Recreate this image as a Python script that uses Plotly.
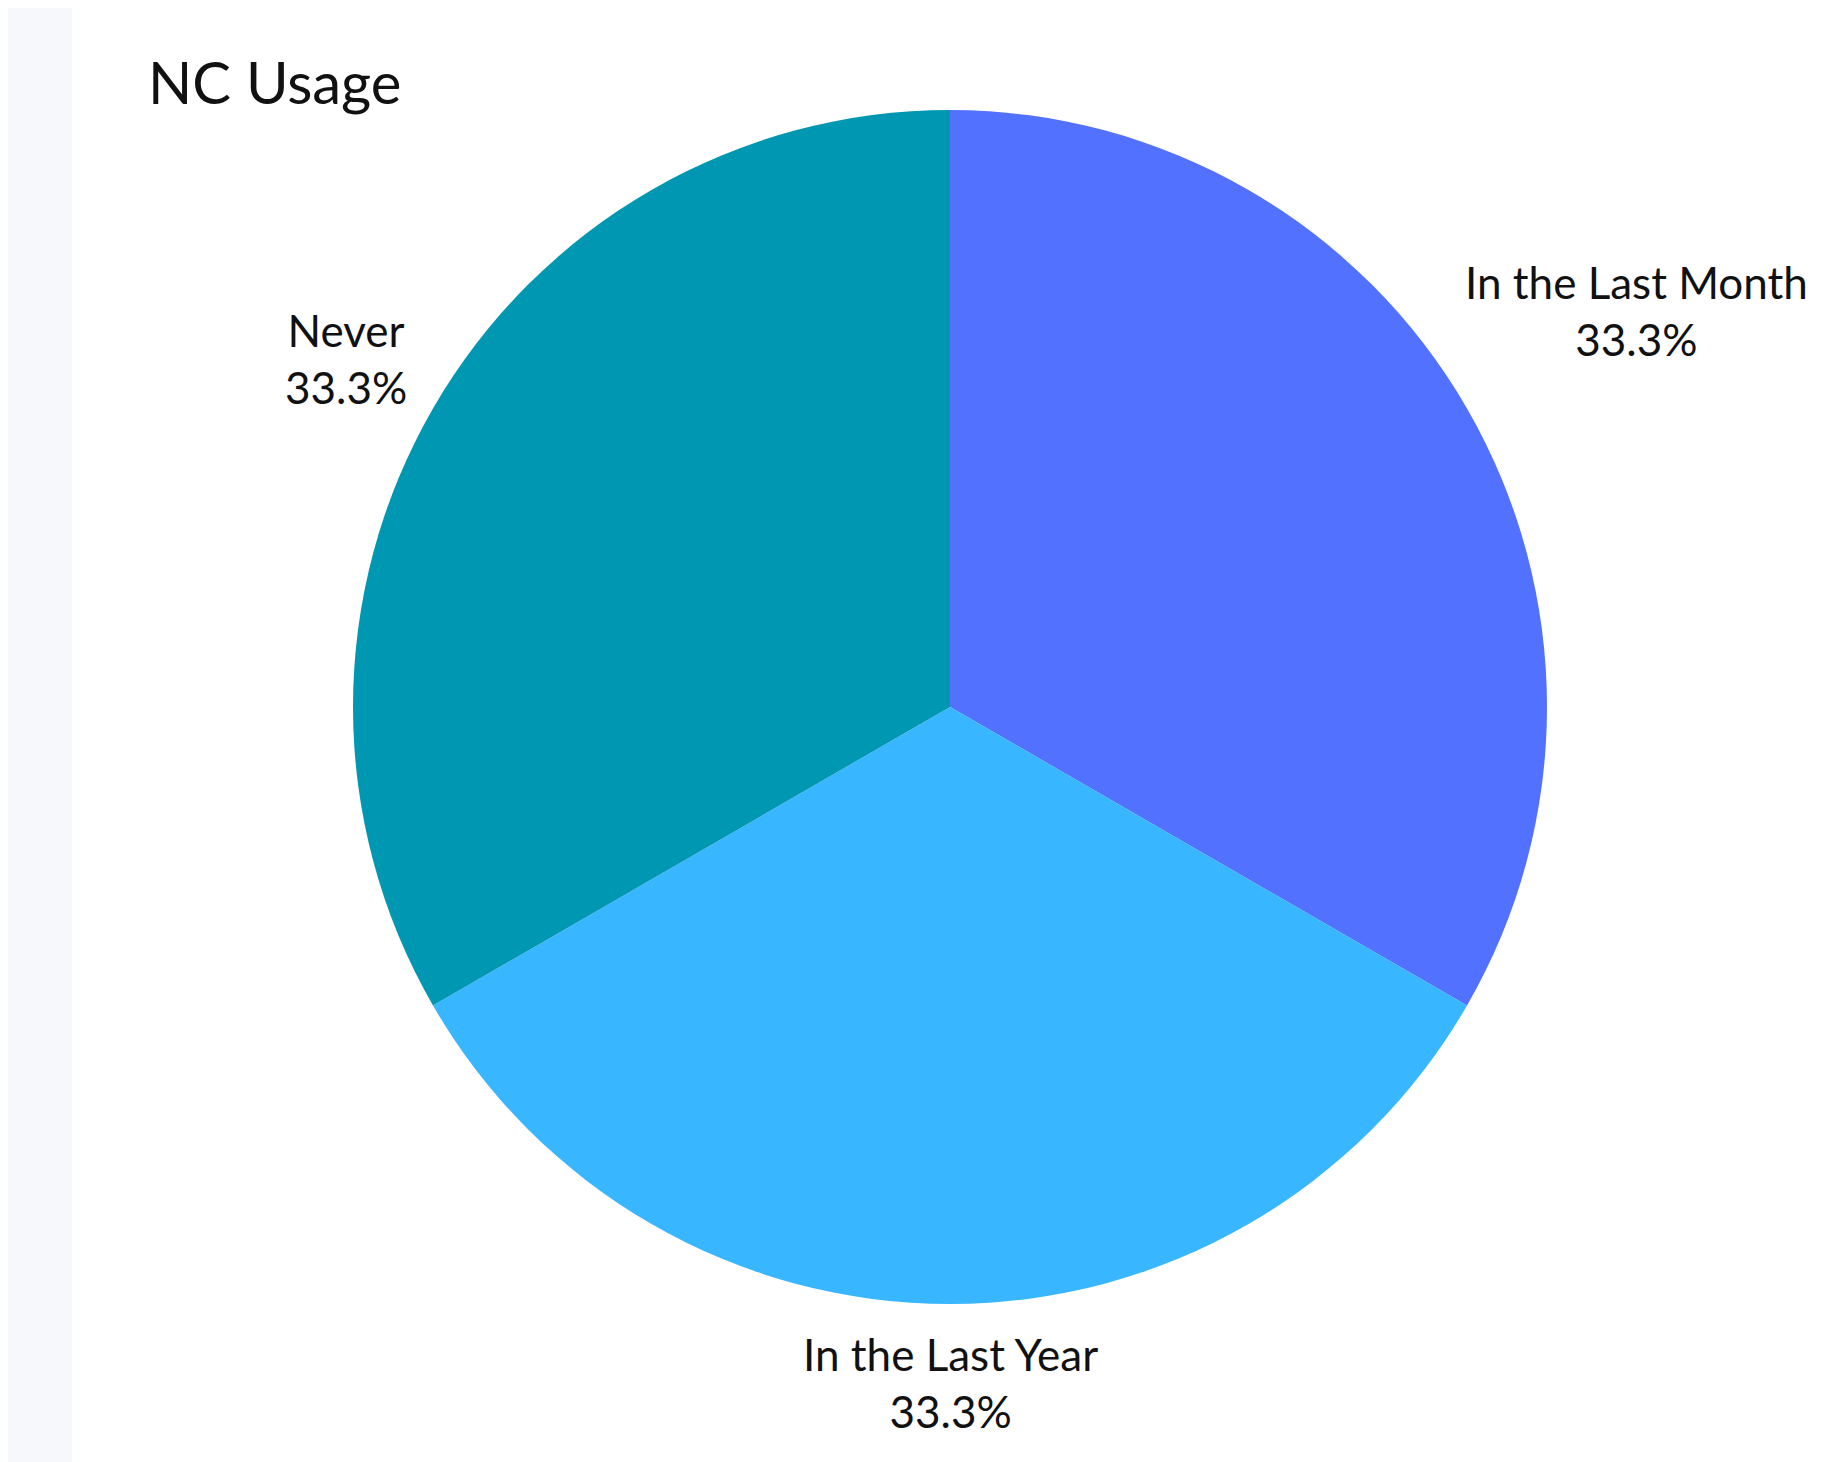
import math
import plotly.graph_objects as go

# ---------- data ----------
labels = ['In the Last Month', 'In the Last Year', 'Never']
values = [1, 1, 1]
colors = ['#5271ff', '#38b6ff', '#0097b2']

W, H = 1844, 1462
cx, cy, r = 942, 699, 597  # pie centre / radius in pixels
label_size = 44
# rough half widths of the label blocks (px) for placing them just off the rim
half_w = {'In the Last Month': 170, 'In the Last Year': 150, 'Never': 60}
half_h = 58
gap = 20

fig = go.Figure(go.Pie(
    labels=labels,
    values=values,
    sort=False,
    direction='clockwise',
    rotation=0,
    marker=dict(colors=colors, line=dict(width=0)),
    textinfo='none',
    showlegend=False,
    hoverinfo='label+percent',
    domain=dict(x=[(cx - r) / W, (cx + r) / W],
                y=[(H - cy - r) / H, (H - cy + r) / H]),
))

# outside labels, placed at each slice's mid angle
total = sum(values)
cum = 0
for lab, v in zip(labels, values):
    theta = math.radians(90 - 360 * (cum + v / 2) / total)
    cum += v
    d = r + gap + half_w[lab] * abs(math.cos(theta)) + half_h * abs(math.sin(theta))
    px = cx + d * math.cos(theta)
    py = cy - d * math.sin(theta)
    fig.add_annotation(
        x=px / W, y=1 - py / H, xref='paper', yref='paper',
        text=f'{lab}<br>{v / total:.1%}', showarrow=False, align='center',
        xanchor='center', yanchor='middle',
        font=dict(family='Lato', size=label_size, color='#111111'),
    )

# faint strip of the slide background on the left
fig.add_shape(type='rect', xref='paper', yref='paper', x0=0, x1=64 / W, y0=0, y1=1,
              fillcolor='#f6f8fb', line=dict(width=0), layer='below')

fig.update_layout(
    width=W, height=H,
    margin=dict(l=0, r=0, t=0, b=0),
    paper_bgcolor='white',
    title=dict(text='NC Usage', x=140 / W, xanchor='left', xref='paper',
               y=1 - 76 / H, yanchor='middle',
               font=dict(family='Lato', size=58, color='#111111')),
)

fig.write_html("out.html")
